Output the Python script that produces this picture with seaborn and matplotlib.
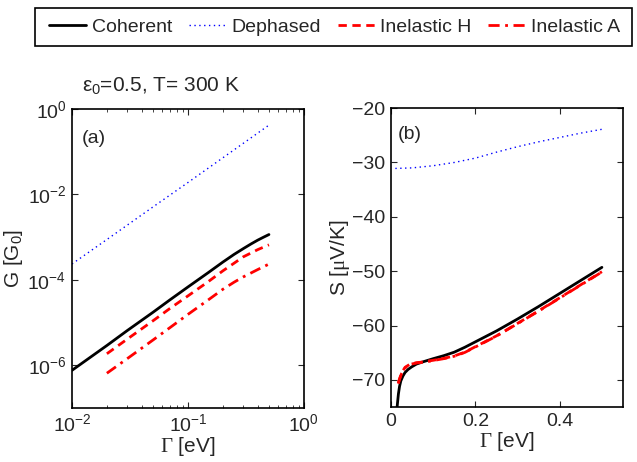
import numpy as np
import pandas as pd
import matplotlib
matplotlib.use("Agg")
import matplotlib.pyplot as plt
import seaborn as sns

# datos leidos del grafico
# panel (a): conductancia G [G0] vs Gamma [eV]
gamma_coh_a = [0.01, 0.02, 0.03, 0.05, 0.07, 0.1, 0.15, 0.2, 0.25, 0.3, 0.35, 0.4, 0.45, 0.5]
g_coherente = [7.6e-7, 2.9e-6, 6.5e-6, 1.74e-5, 3.4e-5, 6.8e-5, 1.48e-4, 2.6e-4,
               3.94e-4, 5.37e-4, 6.92e-4, 8.5e-4, 1.0e-3, 1.15e-3]
gamma_def_a = [0.01, 0.02, 0.05, 0.1, 0.2, 0.5]
g_defasado = [2.35e-4, 8.8e-4, 5.1e-3, 1.9e-2, 7.2e-2, 4.2e-1]
gamma_inel_a = [0.02, 0.03, 0.05, 0.07, 0.1, 0.15, 0.2, 0.25, 0.3, 0.4, 0.5]
g_inel_h = [1.86e-6, 4.1e-6, 1.1e-5, 2.14e-5, 4.2e-5, 9.1e-5, 1.62e-4,
            2.45e-4, 3.45e-4, 5.1e-4, 6.6e-4]
g_inel_a = [6.5e-7, 1.43e-6, 3.9e-6, 7.6e-6, 1.55e-5, 3.4e-5, 6.0e-5,
            8.8e-5, 1.17e-4, 1.74e-4, 2.34e-4]

# panel (b): termopotencia S [uV/K] vs Gamma [eV]
gamma_coh_b = [0.0135, 0.0142, 0.016, 0.0173, 0.02, 0.023, 0.028, 0.033, 0.04, 0.049,
               0.06, 0.075, 0.1, 0.125, 0.15, 0.175, 0.2, 0.25, 0.3, 0.35, 0.4, 0.45, 0.5]
s_coherente = [-76.5, -75.0, -73.6, -72.6, -71.2, -70.2, -69.3, -68.65, -68.1, -67.6,
               -67.1, -66.7, -66.1, -65.55, -64.9, -64.0, -63.0, -61.0, -58.8, -56.5,
               -54.1, -51.7, -49.3]
gamma_def_b = [0.01, 0.05, 0.1, 0.15, 0.2, 0.25, 0.3, 0.35, 0.4, 0.45, 0.5]
s_defasado = [-31.1, -31.0, -30.6, -30.0, -29.2, -28.1, -27.1, -26.2, -25.4, -24.6, -23.9]
gamma_inel_b = [0.017, 0.02, 0.025, 0.033, 0.045, 0.06, 0.076, 0.1, 0.125, 0.15, 0.175,
                0.2, 0.25, 0.3, 0.35, 0.4, 0.45, 0.5]
s_inel_h = [-70.6, -69.8, -68.7, -67.7, -67.1, -66.85, -66.7, -66.4, -66.05, -65.6, -64.9,
            -63.9, -61.9, -59.6, -57.3, -54.9, -52.5, -50.1]
s_inel_a = [-70.7, -69.9, -68.8, -67.8, -67.15, -66.9, -66.75, -66.45, -66.1, -65.65, -64.95,
            -63.95, -61.95, -59.65, -57.35, -54.95, -52.55, -50.15]

etiquetas = ["Coherent", "Dephased", "Inelastic H", "Inelastic A"]
estilos = {
    "Coherent": dict(color="black", linestyle="-", linewidth=2.0),
    "Dephased": dict(color="#0000ff", linestyle=(0, (1, 2.5)), linewidth=1.0),
    "Inelastic H": dict(color="#ff0000", linestyle=(0, (3, 2)), linewidth=2.0),
    "Inelastic A": dict(color="#ff0000", linestyle=(0, (4, 2, 1, 2)), linewidth=2.0),
}

sns.set_style("white")
plt.rcParams["font.family"] = ["Liberation Sans", "DejaVu Sans"]
plt.rcParams["mathtext.fontset"] = "custom"
plt.rcParams["mathtext.rm"] = "Liberation Sans"
plt.rcParams["mathtext.it"] = "Liberation Sans"
plt.rcParams["mathtext.tt"] = "Liberation Serif"
plt.rcParams["xtick.direction"] = "in"
plt.rcParams["ytick.direction"] = "in"
plt.rcParams["font.size"] = 14

fig = plt.figure(figsize=(6.37, 4.62), dpi=100)
ax_g = fig.add_axes([0.113, 0.117, 0.364, 0.647])
ax_s = fig.add_axes([0.614, 0.119, 0.364, 0.647])

series_a = {
    "Coherent": (gamma_coh_a, g_coherente),
    "Dephased": (gamma_def_a, g_defasado),
    "Inelastic H": (gamma_inel_a, g_inel_h),
    "Inelastic A": (gamma_inel_a, g_inel_a),
}
series_b = {
    "Coherent": (gamma_coh_b, s_coherente),
    "Dephased": (gamma_def_b, s_defasado),
    "Inelastic H": (gamma_inel_b, s_inel_h),
    "Inelastic A": (gamma_inel_b, s_inel_a),
}

for nombre in etiquetas:
    x, y = series_a[nombre]
    sns.lineplot(x=x, y=y, ax=ax_g, label=nombre, sort=False, legend=False, **estilos[nombre])
    x, y = series_b[nombre]
    sns.lineplot(x=x, y=y, ax=ax_s, sort=False, legend=False, **estilos[nombre])

# panel (a)
ax_g.set_xscale("log")
ax_g.set_yscale("log")
ax_g.set_xlim(1e-2, 1e0)
ax_g.set_ylim(1e-7, 1e0)
ax_g.set_yticks([1e0, 1e-2, 1e-4, 1e-6])
ax_g.yaxis.set_minor_locator(matplotlib.ticker.NullLocator())
ax_g.set_xlabel(r"$\mathtt{\Gamma}$ [eV]", labelpad=0, fontsize=15)
ax_g.set_ylabel(r"G [G$_0$]", labelpad=2, fontsize=15)
ax_g.text(0.043, 0.93, "(a)", transform=ax_g.transAxes, va="top", ha="left", fontsize=14)

# panel (b)
ax_s.set_xlim(0, 0.55)
ax_s.set_ylim(-75, -20)
ax_s.set_xticks([0, 0.2, 0.4])
ax_s.set_xticklabels(["0", "0.2", "0.4"])
ax_s.set_yticks([-20, -30, -40, -50, -60, -70])
ax_s.set_xlabel(r"$\mathtt{\Gamma}$ [eV]", labelpad=0, fontsize=15)
ax_s.set_ylabel(r"S [$\mathtt{\mu}$V/K]", labelpad=0, fontsize=15)
ax_s.text(0.03, 0.94, "(b)", transform=ax_s.transAxes, va="top", ha="left", fontsize=14)

for ax in (ax_g, ax_s):
    ax.tick_params(which="both", top=True, right=True, bottom=True, left=True,
                   direction="in", labelsize=14, pad=4)
    ax.tick_params(which="major", length=4, width=0.8)
    ax.tick_params(which="minor", length=2.5, width=0.6)
    for borde in ax.spines.values():
        borde.set_linewidth(1.2)
        borde.set_color("black")

fig.text(82 / 637, 1 - 92 / 462, r"$\epsilon_0$=0.5, T= 300 K", fontsize=15)

handles, labels = ax_g.get_legend_handles_labels()
leyenda = fig.legend(handles, labels, loc="center", ncol=4, mode="expand",
                     bbox_to_anchor=(0.068, 0.9, 0.915, 0.082), frameon=True,
                     fancybox=False, edgecolor="black", handlelength=1.9,
                     handletextpad=0.3, columnspacing=0.8, borderaxespad=0,
                     borderpad=0.3, fontsize=14)
leyenda.get_frame().set_linewidth(1.2)
# la caja de la leyenda ocupa todo el ancho de la referencia
leyenda.get_frame().set_bounds(0, 0, 0, 0)
leyenda.get_frame().set_visible(False)
caja = matplotlib.patches.Rectangle((35 / 637, 1 - 46 / 462), 597 / 637, 38 / 462,
                                    transform=fig.transFigure, fill=False,
                                    edgecolor="black", linewidth=1.2)
fig.patches.append(caja)

fig.savefig("out.png", dpi=100)
